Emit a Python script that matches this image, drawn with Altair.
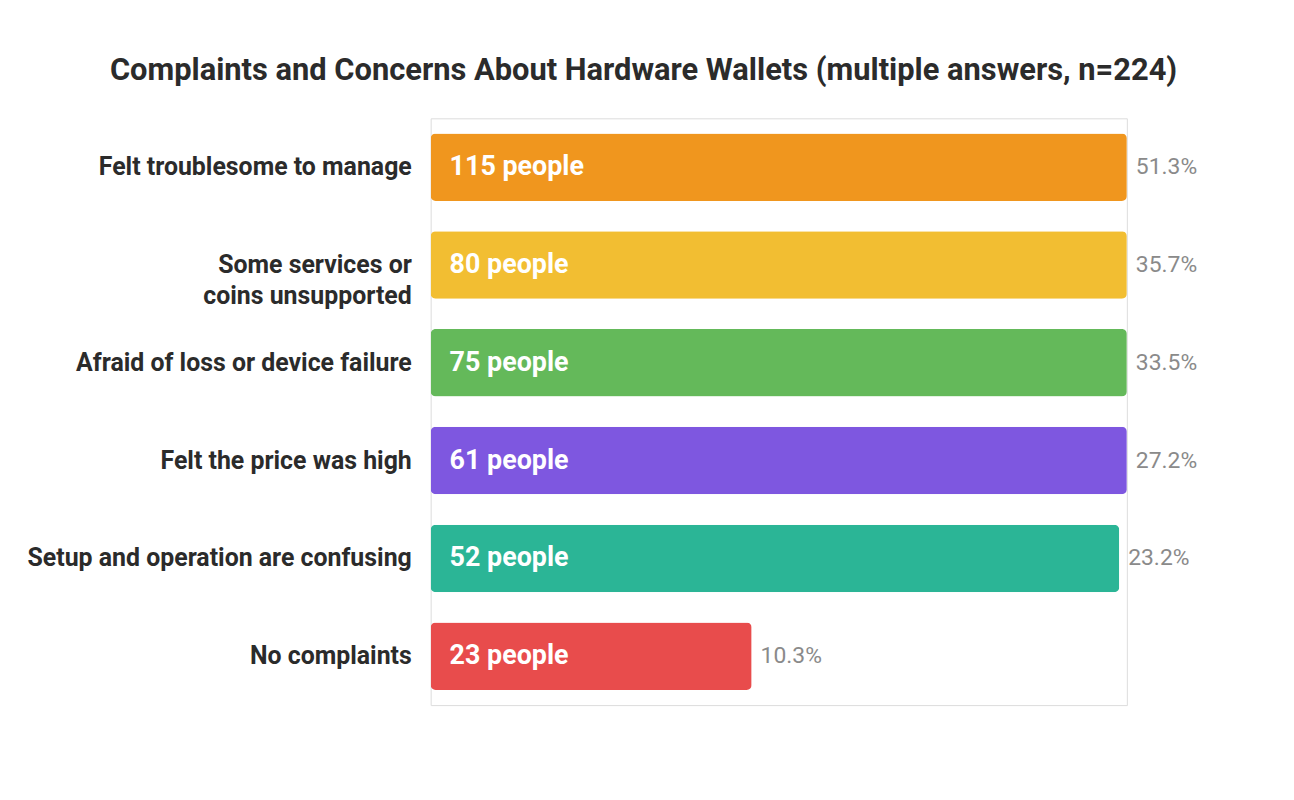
import altair as alt
import pandas as pd

categories = [
    "Felt troublesome to manage",
    "Some services or\ncoins unsupported",
    "Afraid of loss or device failure",
    "Felt the price was high",
    "Setup and operation are confusing",
    "No complaints",
]
people = [115, 80, 75, 61, 52, 23]
percents = ["51.3%", "35.7%", "33.5%", "27.2%", "23.2%", "10.3%"]
# bar lengths as drawn in the reference (share of the track, %)
bar_len = [100, 100, 100, 100, 98.9, 46.1]
colors = ["#F0961E", "#F2BE32", "#64B95A", "#7E57E0", "#2BB596", "#E84C4C"]

df = pd.DataFrame({
    "cat": categories,
    "people": people,
    "pct": percents,
    "len": bar_len,
    "inside": [f"{p} people" for p in people],
})

font = "Roboto"
y = alt.Y("cat:N", sort=categories, axis=None,
          scale=alt.Scale(paddingInner=0.31, paddingOuter=0.155))
x = alt.X("len:Q", axis=None, scale=alt.Scale(domain=[0, 100]))

base = alt.Chart(df).encode(y=y)

bars = base.mark_bar(cornerRadius=5).encode(
    x=x,
    color=alt.Color("cat:N", sort=categories,
                    scale=alt.Scale(domain=categories, range=colors), legend=None),
)

inside = base.mark_text(align="left", baseline="middle", dx=19, font=font,
                        fontSize=27, fontWeight="bold", color="white").encode(
    x=alt.value(0), text="inside:N")

pct = base.mark_text(align="left", baseline="middle", dx=9, font=font,
                     fontSize=23, color="#8a8a8a").encode(
    x=x, text="pct:N")

labels = base.mark_text(align="right", baseline="middle", dx=-19, font=font,
                        fontSize=25, fontWeight="bold", color="#2b2b2b",
                        lineBreak="\n", lineHeight=31).encode(
    x=alt.value(0), text="cat:N")

chart = alt.layer(bars, inside, pct, labels).properties(
    width=700,
    height=590,
    autosize=alt.AutoSizeParams(type="none"),
    padding={"left": 425, "top": 109, "right": 160, "bottom": 0},
    title=alt.Title(
        "Complaints and Concerns About Hardware Wallets (multiple answers, n=224)",
        font=font, fontSize=31, fontWeight="bold", color="#2b2b2b",
        anchor="middle", dx=-136, offset=32,
    ),
).configure_view(stroke=None, strokeWidth=0).configure_axis(
    grid=False, domain=False
).configure(background="white")

chart.save("out.html", embed_options={"renderer": "svg", "actions": False})
